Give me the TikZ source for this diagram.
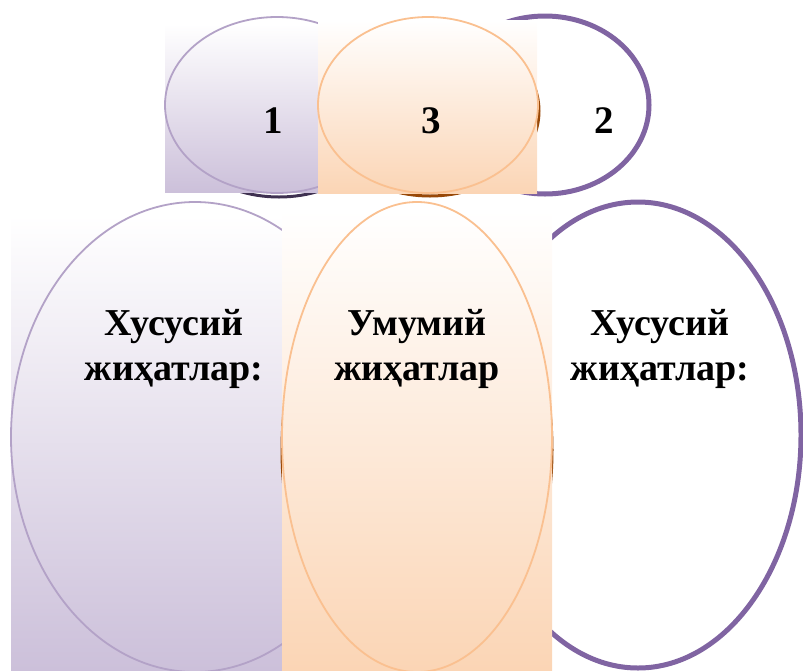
\documentclass[tikz,border=0pt]{standalone}
\usepackage{fontspec}
\setmainfont{Liberation Serif}
\definecolor{lavline}{HTML}{B3A2C7}
\definecolor{lavfill}{HTML}{CCC0DA}
\definecolor{orline}{HTML}{FAC090}
\definecolor{orfill}{HTML}{FBD5B5}
\definecolor{purpline}{HTML}{8064A2}
\definecolor{darkpurp}{HTML}{3F3151}
\definecolor{darkor}{HTML}{984807}
\tikzset{
  thickring/.style={draw=purpline, line width=5pt},
  shadowring/.style={line width=3pt},
  thinring/.style={line width=1.8pt},
  headtext/.style={font=\bfseries\fontsize{38}{45}\selectfont, align=center, anchor=base},
  numtext/.style={font=\bfseries\fontsize{39}{40}\selectfont, anchor=base},
}
\begin{document}
\begin{tikzpicture}[x=1pt,y=-1pt]
  \useasboundingbox (0,0) rectangle (803,670);
  % top row
  \draw[thickring] (545,105) ellipse [x radius=104pt, y radius=89pt];
  \draw[shadowring, darkpurp] (279,112) ellipse [x radius=109pt, y radius=85pt];
  \shade[top color=white, bottom color=lavfill] (165,24) rectangle (318,192);
  \draw[thinring, lavline] (277,105) ellipse [x radius=112pt, y radius=88pt];
  \draw[shadowring, darkor] (430,111) ellipse [x radius=109pt, y radius=85pt];
  \shade[top color=white, bottom color=orfill] (318,20) rectangle (537,193);
  \draw[thinring, orline] (428,105) ellipse [x radius=110pt, y radius=88pt];
  \node[numtext] (n1) at (273,133) {1};
  \node[numtext] (n3) at (431,133) {3};
  \node[numtext] (n2) at (604,133) {2};
  % bottom row
  \draw[thickring] (638,435) ellipse [x radius=163pt, y radius=233pt];
  \shade[top color=white, bottom color=lavfill] (11,215) rectangle (282,670);
  \draw[thinring, lavline] (195,437) ellipse [x radius=184pt, y radius=235pt];
  \draw[shadowring, darkor] (417,450) ellipse [x radius=135pt, y radius=222pt];
  \shade[top color=white, bottom color=orfill] (282,210) rectangle (552,670);
  \draw[thinring, orline] (417,437) ellipse [x radius=135pt, y radius=235pt];
  \node[headtext] (left) at (174,380) {Хусусий\\жиҳатлар:};
  \node[headtext] (mid) at (417,380) {Умумий\\жиҳатлар};
  \node[headtext] (right) at (660,380) {Хусусий\\жиҳатлар:};
\end{tikzpicture}
\end{document}
